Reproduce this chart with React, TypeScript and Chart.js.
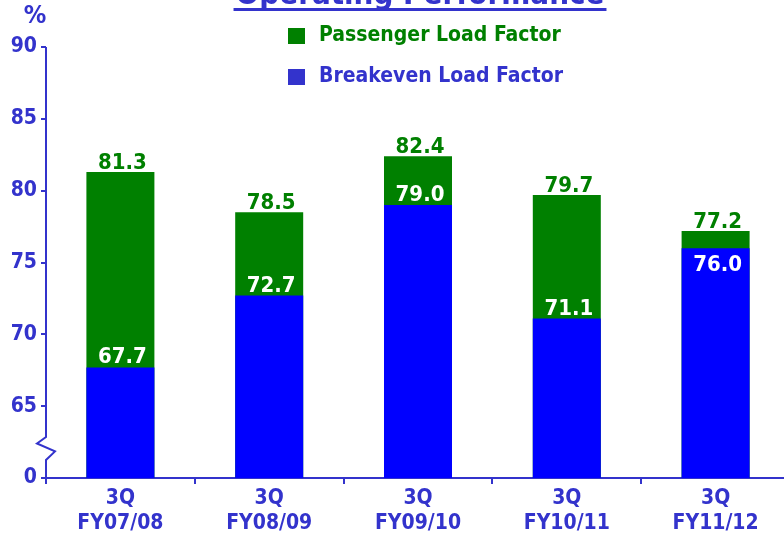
import React, { useEffect, useRef } from "react";
import { Chart, registerables } from "chart.js";

Chart.register(...registerables);

const quarters = ["3Q", "3Q", "3Q", "3Q", "3Q"];
const fiscalYears = ["FY07/08", "FY08/09", "FY09/10", "FY10/11", "FY11/12"];
const passengerLoadFactor = [81.3, 78.5, 82.4, 79.7, 77.2];
const breakevenLoadFactor = [67.7, 72.7, 79.0, 71.1, 76.0];
const yTicks = [60, 65, 70, 75, 80, 85, 90];
const yTickLabels: Record<number, string> = { 60: "0", 65: "65", 70: "70", 75: "75", 80: "80", 85: "85", 90: "90" };
const titleText = "Operating Performance";
const unitText = "%";

const AXIS = "#3333cc";
const GREEN = "#008000";
const BLUE = "#0000ff";
const FONT = "'DejaVu Sans Condensed', 'DejaVu Sans', sans-serif";

const decorPlugin = {
  id: "decor",
  afterDatasetsDraw(chart: any) {
    const ctx = chart.ctx;
    ctx.save();
    const m0 = chart.getDatasetMeta(0);
    const m1 = chart.getDatasetMeta(1);
    ctx.font = `bold 22px ${FONT}`;
    ctx.textAlign = "center";
    ctx.textBaseline = "alphabetic";
    m0.data.forEach((bar: any, i: number) => {
      ctx.fillStyle = GREEN;
      ctx.fillText(passengerLoadFactor[i].toFixed(1), bar.x + 2, bar.y - 3);
      const b = m1.data[i];
      ctx.fillStyle = "#ffffff";
      const gap = b.y - bar.y;
      const ty = gap > 24 ? b.y - 4 : b.y + 23;
      ctx.fillText(breakevenLoadFactor[i].toFixed(1), b.x + 2, ty);
    });
    ctx.restore();
  },
  afterDraw(chart: any) {
    const ctx = chart.ctx;
    const y = chart.scales.y;
    const area = chart.chartArea;
    ctx.save();
    const ax = area.left;
    ctx.strokeStyle = AXIS;
    ctx.lineWidth = 2;
    ctx.beginPath();
    ctx.moveTo(ax, area.top);
    ctx.lineTo(ax, y.getPixelForValue(62.85));
    ctx.lineTo(ax - 9, y.getPixelForValue(62.4));
    ctx.lineTo(ax + 9, y.getPixelForValue(61.85));
    ctx.lineTo(ax, y.getPixelForValue(61.25));
    ctx.lineTo(ax, area.bottom + 5);
    ctx.stroke();

    ctx.fillStyle = AXIS;
    ctx.font = `bold 25px ${FONT}`;
    ctx.textAlign = "center";
    ctx.textBaseline = "middle";
    ctx.fillText(unitText, ax - 11, 16);

    ctx.font = `bold 31px ${FONT}`;
    ctx.textAlign = "center";
    ctx.textBaseline = "alphabetic";
    const cx = 420;
    ctx.fillText(titleText, cx, 4);
    const tw = ctx.measureText(titleText).width;
    ctx.fillRect(cx - tw / 2 - 2, 8, tw + 4, 3);

    const items = chart.data.datasets.map((d: any) => ({ label: d.label, box: d.legendColor, text: d.legendText }));
    ctx.font = `bold 21px ${FONT}`;
    ctx.textAlign = "left";
    ctx.textBaseline = "middle";
    items.forEach((it: any, i: number) => {
      const cy = 36 + i * 41;
      ctx.fillStyle = it.box;
      ctx.fillRect(288, cy - 8, 17, 16);
      ctx.fillStyle = it.text;
      ctx.fillText(it.label, 319, cy);
    });
    ctx.restore();
  },
};

export default function App() {
  const ref = useRef<HTMLCanvasElement | null>(null);
  useEffect(() => {
    document.body.style.margin = "0";
    const canvas = ref.current!;
    const chart = new Chart(canvas, {
      type: "bar",
      data: {
        labels: quarters.map((q, i) => [q, fiscalYears[i]]),
        datasets: [
          {
            label: "Passenger Load Factor",
            data: passengerLoadFactor,
            backgroundColor: GREEN,
            legendColor: GREEN,
            legendText: GREEN,
            order: 2,
            grouped: false,
            barPercentage: 1,
            categoryPercentage: 0.457,
          } as any,
          {
            label: "Breakeven Load Factor",
            data: breakevenLoadFactor,
            backgroundColor: BLUE,
            legendColor: AXIS,
            legendText: AXIS,
            order: 1,
            grouped: false,
            barPercentage: 1,
            categoryPercentage: 0.457,
          } as any,
        ],
      },
      options: {
        responsive: false,
        animation: false,
        devicePixelRatio: 1,
        layout: { padding: { top: 47, left: 0, right: 0, bottom: 0 } },
        plugins: { legend: { display: false }, title: { display: false }, tooltip: { enabled: false } },
        scales: {
          x: {
            grid: { drawOnChartArea: false, drawTicks: true, tickLength: 6, color: AXIS, lineWidth: 2, offset: true },
            border: { display: true, color: AXIS, width: 2 },
            ticks: { color: AXIS, font: { family: FONT, size: 21, weight: "bold", lineHeight: 1.2 }, padding: 2, maxRotation: 0, autoSkip: false },
            afterFit: (s: any) => { s.height = 59; },
          },
          y: {
            min: 60,
            max: 90,
            afterBuildTicks: (s: any) => { s.ticks = yTicks.map((v) => ({ value: v })); },
            grid: { drawOnChartArea: false, drawTicks: true, tickLength: 5, color: AXIS, lineWidth: 2 },
            border: { display: false },
            ticks: {
              color: AXIS,
              font: { family: FONT, size: 21, weight: "bold" },
              padding: 4,
              callback: (v: any) => yTickLabels[v as number] ?? String(v),
            },
            afterFit: (s: any) => { s.width = 46; },
          },
        },
      } as any,
      plugins: [decorPlugin],
    });
    return () => chart.destroy();
  }, []);
  return (
    <div style={{ position: "fixed", left: 0, top: 0, width: 784, height: 537, overflow: "hidden", background: "#fff" }}>
      <canvas ref={ref} width={790} height={537} style={{ display: "block" }} />
    </div>
  );
}
